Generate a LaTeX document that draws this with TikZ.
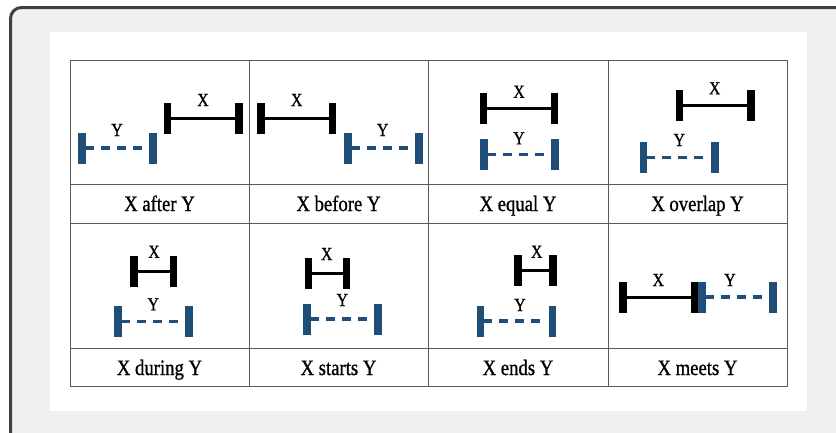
\documentclass[tikz,border=0pt]{standalone}
\usepackage{fontspec}
\setmainfont[FakeStretch=0.85,FakeBold=0.9]{Liberation Serif}
\definecolor{yblue}{HTML}{1F4E79}
\definecolor{framec}{HTML}{404040}
\definecolor{bgc}{HTML}{F0F0F0}
\definecolor{gridc}{HTML}{5A5A5A}
\tikzset{
  xbar/.style={fill=black, draw=none, minimum width=7.5pt, minimum height=31pt, inner sep=0pt, outer sep=0pt},
  ybar/.style={fill=yblue, draw=none, minimum width=7.6pt, minimum height=31pt, inner sep=0pt, outer sep=0pt},
  xline/.style={draw=black, line width=3pt},
  yline/.style={draw=yblue, line width=3.5pt, dash pattern=on 8pt off 7pt on 9pt off 7pt on 9pt off 7pt on 9pt off 30pt},
  lbl/.style={inner sep=0pt, font=\fontsize{18.5}{20}\selectfont},
  caption/.style={inner sep=0pt, anchor=base, font=\fontsize{22}{24}\selectfont},
  grid/.style={draw=gridc, line width=0.9pt}
}
\begin{document}
\begin{tikzpicture}[x=1pt,y=-1pt]
\useasboundingbox (0,0) rectangle (836,432);
% outer frame
\begin{scope}
\clip (0,0) rectangle (836,432);
\draw[draw=framec, fill=bgc, line width=3pt, rounded corners=11pt] (10.5,7.5) rectangle (870,470);
\end{scope}
% white panel
\fill[white] (50,32) rectangle (807,411);
% table grid
\draw[grid] (70,60) rectangle (787,386);
\draw[grid] (70,184) -- (787,184);
\draw[grid] (70,223) -- (787,223);
\draw[grid] (70,348) -- (787,348);
\draw[grid] (249,60) -- (249,386);
\draw[grid] (428,60) -- (428,386);
\draw[grid] (608,60) -- (608,386);

% cell 1: X after Y
\node[xbar] (x1a) at (167.7,118) {};
\node[xbar] (x1b) at (239,118) {};
\draw[xline] (x1a) -- (x1b);
\node[lbl] (lx1) at (203,100) {X};
\node[ybar] (y1a) at (82,148) {};
\node[ybar] (y1b) at (153,148) {};
\draw[yline] (y1a) -- (y1b);
\node[lbl] (ly1) at (117,130) {Y};
\node[caption] (c1) at (159.5,211) {X after Y};

% cell 2: X before Y
\node[xbar] (x2a) at (261,118) {};
\node[xbar] (x2b) at (332.7,118) {};
\draw[xline] (x2a) -- (x2b);
\node[lbl] (lx2) at (296.7,100) {X};
\node[ybar] (y2a) at (348,148) {};
\node[ybar] (y2b) at (419,148) {};
\draw[yline] (y2a) -- (y2b);
\node[lbl] (ly2) at (382.7,130) {Y};
\node[caption] (c2) at (338.5,211) {X before Y};

% cell 3: X equal Y
\node[xbar] (x3a) at (483.7,108.7) {};
\node[xbar] (x3b) at (554.7,108.7) {};
\draw[xline] (x3a) -- (x3b);
\node[lbl] (lx3) at (519,91.7) {X};
\node[ybar] (y3a) at (483.7,154.5) {};
\node[ybar] (y3b) at (555,154.5) {};
\draw[yline] (y3a) -- (y3b);
\node[lbl] (ly3) at (519,138.3) {Y};
\node[caption] (c3) at (518,211) {X equal Y};

% cell 4: X overlap Y
\node[xbar] (x4a) at (679.7,105) {};
\node[xbar] (x4b) at (751,105) {};
\draw[xline] (x4a) -- (x4b);
\node[lbl] (lx4) at (714.7,88.3) {X};
\node[ybar] (y4a) at (643.3,157.5) {};
\node[ybar] (y4b) at (714.7,157.5) {};
\draw[yline] (y4a) -- (y4b);
\node[lbl] (ly4) at (679.3,140) {Y};
\node[caption] (c4) at (697.5,211) {X overlap Y};

% cell 5: X during Y
\node[xbar] (x5a) at (134,271) {};
\node[xbar] (x5b) at (173.3,271) {};
\draw[xline] (x5a) -- (x5b);
\node[lbl] (lx5) at (154,251.7) {X};
\node[ybar] (y5a) at (118,321.5) {};
\node[ybar] (y5b) at (189,321.5) {};
\draw[yline] (y5a) -- (y5b);
\node[lbl] (ly5) at (153.3,304.3) {Y};
\node[caption] (c5) at (159.5,375) {X during Y};

% cell 6: X starts Y
\node[xbar] (x6a) at (308.3,273) {};
\node[xbar] (x6b) at (346.7,273) {};
\draw[xline] (x6a) -- (x6b);
\node[lbl] (lx6) at (326.7,254) {X};
\node[ybar] (y6a) at (306.8,319) {};
\node[ybar] (y6b) at (378,319) {};
\draw[yline] (y6a) -- (y6b);
\node[lbl] (ly6) at (342.3,300) {Y};
\node[caption] (c6) at (338.5,375) {X starts Y};

% cell 7: X ends Y
\node[xbar] (x7a) at (518,270) {};
\node[xbar] (x7b) at (553,270) {};
\draw[xline] (x7a) -- (x7b);
\node[lbl] (lx7) at (536.7,251.7) {X};
\node[ybar] (y7a) at (480.5,321) {};
\node[ybar] (y7b) at (552.5,321) {};
\draw[yline] (y7a) -- (y7b);
\node[lbl] (ly7) at (520,305) {Y};
\node[caption] (c7) at (518,375) {X ends Y};

% cell 8: X meets Y
\node[xbar] (x8a) at (623,297) {};
\node[xbar] (x8b) at (694.5,297) {};
\draw[xline] (x8a) -- (x8b);
\node[lbl] (lx8) at (658.3,280) {X};
\node[ybar] (y8a) at (702,297) {};
\node[ybar] (y8b) at (773,297) {};
\draw[yline] (y8a) -- (y8b);
\node[lbl] (ly8) at (730,280) {Y};
\node[caption] (c8) at (697.5,375) {X meets Y};
\end{tikzpicture}
\end{document}
